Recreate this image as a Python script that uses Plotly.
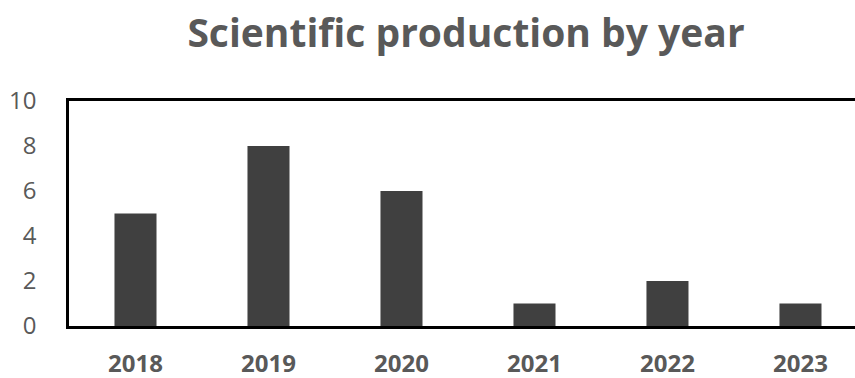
import plotly.graph_objects as go

years = ["2018", "2019", "2020", "2021", "2022", "2023"]
documents = [5, 8, 6, 1, 2, 1]

GRAY_TEXT = "#595959"
BAR_COLOR = "#404040"

fig = go.Figure(
    go.Bar(
        x=years,
        y=documents,
        marker=dict(color=BAR_COLOR, line=dict(width=0)),
        width=0.316,
    )
)

fig.update_layout(
    width=855,
    height=378,
    margin=dict(l=69, r=0, t=101, b=52, autoexpand=False),
    plot_bgcolor="white",
    paper_bgcolor="white",
    showlegend=False,
    title=dict(
        text="<b>Scientific production by year</b>",
        x=466 / 855,
        xanchor="center",
        xref="container",
        y=1 - 33 / 378,
        yanchor="middle",
        yref="container",
        font=dict(family="Open Sans", size=39, color=GRAY_TEXT),
    ),
)

fig.update_xaxes(
    type="category",
    range=[-0.5, 5.41],
    automargin=False,
    showline=True,
    linecolor="black",
    linewidth=2.5,
    mirror=True,
    showgrid=False,
    ticks="",
    ticklabelstandoff=14,
    tickfont=dict(family="Open Sans", size=24, color=GRAY_TEXT, weight="bold"),
)

fig.update_yaxes(
    range=[0, 10],
    tickvals=[0, 2, 4, 6, 8, 10],
    automargin=False,
    showline=True,
    linecolor="black",
    linewidth=2.5,
    showgrid=False,
    zeroline=False,
    ticks="",
    ticklabelstandoff=25,
    tickfont=dict(family="Open Sans", size=24, color=GRAY_TEXT),
)

fig.write_html("out.html")
